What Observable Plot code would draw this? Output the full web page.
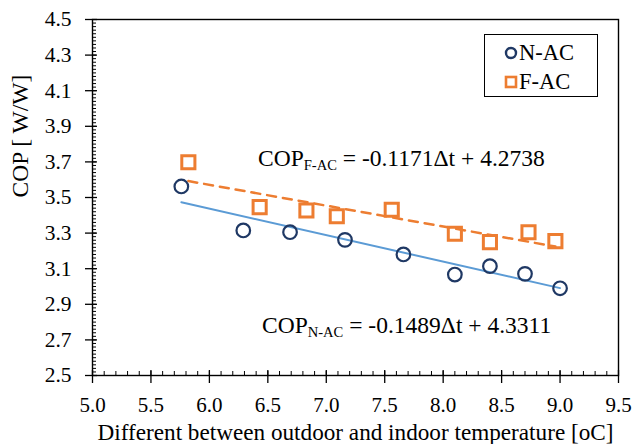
<!DOCTYPE html>
<html>
<head>
<meta charset="utf-8">
<script src="https://cdn.jsdelivr.net/npm/d3@7"></script>
<script src="https://cdn.jsdelivr.net/npm/@observablehq/plot@0.6"></script>
<style>
  body { margin: 0; background: white; }
  #wrap { position: relative; width: 634px; height: 444px; font-family: "Liberation Serif", "Times New Roman", serif; color: black; }
  .eq { position: absolute; white-space: nowrap; font-size: 23.5px; line-height: 24px; }
  .eq sub { font-size: 0.62em; vertical-align: -0.3em; line-height: 0; }
  #legend { position: absolute; left: 484px; top: 34px; width: 112px; height: 61px; border: 1px solid #000; background: white; }
  .li { position: absolute; left: 0; display: flex; align-items: center; font-size: 22.5px; line-height: 23px; }
  .li svg { margin-left: 19px; margin-right: 1px; }
</style>
</head>
<body>
<div id="wrap"></div>
<script>
// ---- data ----
const seriesNames = ["N-AC", "F-AC"];
const nacX = [5.76, 6.29, 6.69, 7.16, 7.66, 8.10, 8.40, 8.70, 9.00];
const nacY = [3.562, 3.315, 3.305, 3.262, 3.180, 3.067, 3.114, 3.071, 2.990];
const facX = [5.82, 6.43, 6.83, 7.09, 7.56, 8.10, 8.40, 8.73, 8.96];
const facY = [3.698, 3.446, 3.427, 3.395, 3.431, 3.296, 3.249, 3.305, 3.255];
// linear fits printed on the chart: COP = slope*Δt + intercept
const fitSlope = [-0.1489, -0.1171];
const fitIntercept = [4.3311, 4.2738];
const xTicks = [5.0, 5.5, 6.0, 6.5, 7.0, 7.5, 8.0, 8.5, 9.0, 9.5];
const yTicks = [2.5, 2.7, 2.9, 3.1, 3.3, 3.5, 3.7, 3.9, 4.1, 4.3, 4.5];
const xTitle = "Different between outdoor and indoor temperature [oC]";
const yTitle = "COP [ W/W]";
const eqLabels = [
  {main: "COP", sub: "N-AC", rest: " = -0.1489\u0394t + 4.3311"},
  {main: "COP", sub: "F-AC", rest: " = -0.1171\u0394t + 4.2738"}
];

// ---- build ----
const nac = nacX.map((x, i) => ({x, y: nacY[i]}));
const fac = facX.map((x, i) => ({x, y: facY[i]}));
const fitLine = (xs, k) => d3.extent(xs).map(x => ({x, y: fitSlope[k] * x + fitIntercept[k]}));
const fitN = fitLine(nacX, 0);
const fitF = fitLine(facX, 1);
const xMinor = d3.range(50, 96, 1).map(d => d / 10);
const yMinor = d3.range(125, 226, 1).map(d => d / 50);

const FONT = "'Liberation Serif', 'Times New Roman', serif";
const W = 634, H = 444, mL = 92, mR = 16, mT = 19, mB = 69;
const pw = W - mL - mR, ph = H - mT - mB;

const chart = Plot.plot({
  width: W, height: H,
  marginLeft: mL, marginRight: mR, marginTop: mT, marginBottom: mB,
  x: {domain: [5, 9.5], label: null},
  y: {domain: [2.5, 4.5], label: null},
  style: {fontFamily: FONT, fontSize: "21px", color: "black", background: "white"},
  marks: [
    Plot.tickY(yMinor, {y: d => d, insetRight: pw - 4, stroke: "black", strokeWidth: 1}),
    Plot.tickY(yTicks, {y: d => d, insetRight: pw - 5, stroke: "black", strokeWidth: 1.3}),
    Plot.tickX(xMinor, {x: d => d, insetTop: ph - 4, stroke: "black", strokeWidth: 1}),
    Plot.tickX(xTicks, {x: d => d, insetTop: ph - 5, stroke: "black", strokeWidth: 1.3}),
    Plot.axisY(yTicks, {tickSize: 7, tickPadding: 14, tickFormat: d3.format(".1f"), fontSize: 21.5, strokeWidth: 1.3, label: null}),
    Plot.axisX(xTicks, {tickSize: 8, tickPadding: 14, tickFormat: d3.format(".1f"), fontSize: 21, strokeWidth: 1.3, label: null}),
    Plot.frame({stroke: "black", strokeWidth: 1.4}),
    Plot.line(fitN, {x: "x", y: "y", stroke: "#5B9BD5", strokeWidth: 2}),
    Plot.line(fitF, {x: "x", y: "y", stroke: "#ED7D31", strokeWidth: 2.5, strokeDasharray: "9,7"}),
    Plot.dot(nac, {x: "x", y: "y", r: 6.8, stroke: "#1F3864", strokeWidth: 2.2, fill: "none"}),
    Plot.dot(fac, {x: "x", y: "y", symbol: "square", r: 7.4, stroke: "#ED7D31", strokeWidth: 3, fill: "none"}),
    Plot.text([xTitle], {frameAnchor: "bottom", dy: 64, fontSize: 23.2}),
    Plot.text([yTitle], {frameAnchor: "left", dx: -72, rotate: -90, fontSize: 23.5})
  ]
});

const wrap = document.getElementById("wrap");
wrap.appendChild(chart);

// equations
const eqPos = [{left: 262, top: 313}, {left: 258, top: 146}];
eqLabels.forEach((e, i) => {
  const d = document.createElement("div");
  d.className = "eq";
  d.style.left = eqPos[i].left + "px";
  d.style.top = eqPos[i].top + "px";
  d.innerHTML = `${e.main}<sub>${e.sub}</sub>${e.rest}`;
  wrap.appendChild(d);
});

// legend
const lg = document.createElement("div");
lg.id = "legend";
const markers = [
  `<svg width="14" height="14"><circle cx="7" cy="7" r="5" fill="none" stroke="#1F3864" stroke-width="2.4"/></svg>`,
  `<svg width="14" height="14"><rect x="2" y="2" width="10" height="10" fill="none" stroke="#ED7D31" stroke-width="2.6"/></svg>`
];
seriesNames.forEach((name, i) => {
  const it = document.createElement("div");
  it.className = "li";
  it.style.top = (6 + i * 29) + "px";
  it.innerHTML = markers[i] + `<span>${name}</span>`;
  lg.appendChild(it);
});
wrap.appendChild(lg);
</script>
</body>
</html>
